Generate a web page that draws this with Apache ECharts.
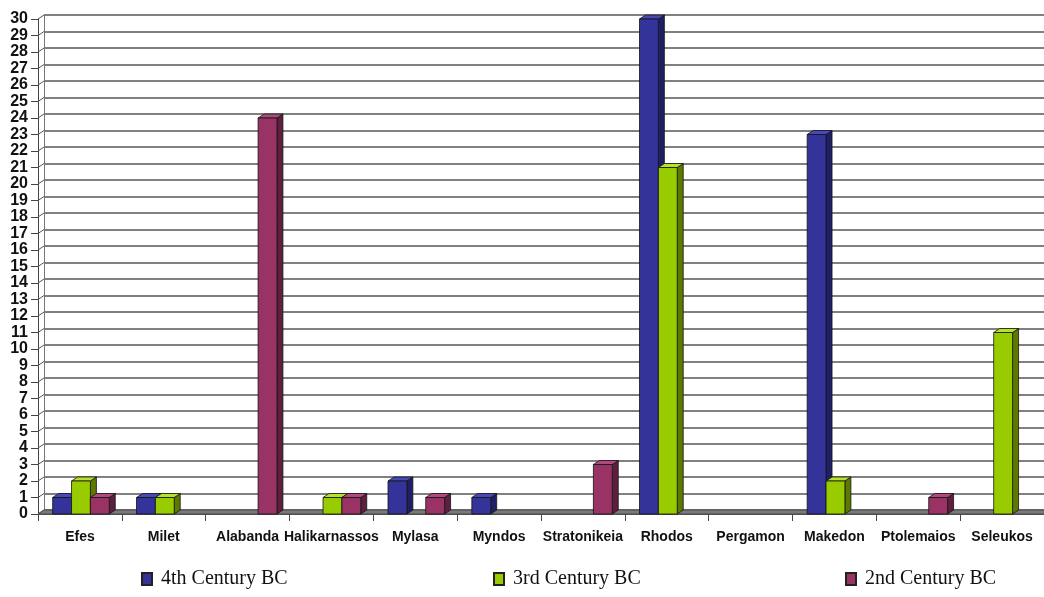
<!DOCTYPE html>
<html>
<head>
<meta charset="utf-8">
<script src="https://cdn.jsdelivr.net/npm/echarts@6/dist/echarts.min.js"></script>
<style>
  html, body { margin: 0; padding: 0; background: #fff; }
  #chart { width: 1044px; height: 597px; }
</style>
</head>
<body>
<div id="chart"></div>
<script>
// Coin finds per city, grouped by century
const categories = ['Efes', 'Milet', 'Alabanda', 'Halikarnassos', 'Mylasa', 'Myndos',
  'Stratonikeia', 'Rhodos', 'Pergamon', 'Makedon', 'Ptolemaios', 'Seleukos'];
const century4 = [1, 1, 0, 0, 2, 1, 0, 30, 0, 23, 0, 0];
const century3 = [2, 1, 0, 1, 0, 0, 0, 21, 0, 2, 0, 11];
const century2 = [1, 0, 24, 1, 1, 0, 3, 0, 0, 0, 1, 0];
const seriesNames = ['4th Century BC', '3rd Century BC', '2nd Century BC'];
const yMin = 0, yMax = 30, yStep = 1;

// face colours: front, top, side
const palettes = [
  { front: '#33339a', top: '#4848b8', side: '#1f1f66' },
  { front: '#99cc00', top: '#b5e22a', side: '#5c7a00' },
  { front: '#993366', top: '#b04a7c', side: '#5e1f3f' }
];

const DX = 6, DY = -4;          // depth offset of the 3D effect
const BAR_OFF = 0.175;          // first bar offset within a category band
const BAR_W = 0.225;            // bar width as fraction of band

function barRenderer(sIdx) {
  return function (params, api) {
    const idx = api.value(0);
    const val = api.value(1);
    if (!val) return null;
    const band = api.size([1, 0])[0];
    const base = api.coord([idx, 0]);
    const top = api.coord([idx, val]);
    const left = base[0] - band / 2 + band * BAR_OFF + sIdx * band * BAR_W;
    const right = left + band * BAR_W;
    const p = palettes[sIdx];
    const stroke = { stroke: '#141414', lineWidth: 0.8 };
    return {
      type: 'group',
      children: [
        { type: 'polygon', shape: { points: [[right, top[1]], [right + DX, top[1] + DY], [right + DX, base[1] + DY], [right, base[1]]] },
          style: Object.assign({ fill: p.side }, stroke) },
        { type: 'polygon', shape: { points: [[left, top[1]], [left + DX, top[1] + DY], [right + DX, top[1] + DY], [right, top[1]]] },
          style: Object.assign({ fill: p.top }, stroke) },
        { type: 'rect', shape: { x: left, y: top[1], width: right - left, height: base[1] - top[1] },
          style: Object.assign({ fill: p.front }, stroke) }
      ]
    };
  };
}

// floor strip and the short connectors from the front axis to the back wall
function frameRenderer(params, api) {
  const band = api.size([1, 0])[0];
  const z0 = api.coord([0, 0]);
  const xl = z0[0] - band / 2;
  const xr = xl + band * categories.length;
  const children = [
    { type: 'polygon', shape: { points: [[xl, z0[1]], [xl + DX, z0[1] + DY], [xr + DX, z0[1] + DY], [xr, z0[1]]] },
      style: { fill: '#7a7a7a', stroke: '#4a4a4a', lineWidth: 1 } }
  ];
  for (let v = yMin; v <= yMax; v += yStep) {
    const c = api.coord([0, v]);
    children.push({ type: 'line', shape: { x1: xl, y1: c[1], x2: xl + DX, y2: c[1] + DY },
      style: { stroke: '#555', lineWidth: 1 } });
  }
  return { type: 'group', children: children };
}

const seriesData = [century4, century3, century2];
const series = seriesData.map((arr, s) => ({
  name: seriesNames[s],
  type: 'custom',
  xAxisIndex: 0,
  yAxisIndex: 0,
  itemStyle: { color: palettes[s].front, borderColor: '#222', borderWidth: 0.8 },
  renderItem: barRenderer(s),
  encode: { x: 0, y: 1 },
  data: arr.map((v, i) => [i, v]),
  z: 5
}));
series.unshift({
  name: 'frame',
  type: 'custom',
  xAxisIndex: 0,
  yAxisIndex: 0,
  renderItem: frameRenderer,
  data: [[0, 0]],
  silent: true,
  z: 2
});

const legendText = { fontFamily: 'Liberation Serif', fontSize: 20, color: '#111', padding: [0, 0, 0, 4], lineHeight: 20 };
const legendBase = { top: 569, padding: 0, itemWidth: 10, itemHeight: 12, icon: 'rect', textStyle: legendText };

const chart = echarts.init(document.getElementById('chart'), null, { renderer: 'canvas' });
chart.setOption({
  animation: false,
  backgroundColor: '#ffffff',
  grid: [
    { left: 38, right: -7, top: 19, bottom: 83, containLabel: false },
    { left: 44, right: -13, top: 15, bottom: 87, containLabel: false }
  ],
  legend: [
    Object.assign({ left: 141, data: [seriesNames[0]] }, legendBase),
    Object.assign({ left: 493, data: [seriesNames[1]] }, legendBase),
    Object.assign({ left: 845, data: [seriesNames[2]] }, legendBase)
  ],
  xAxis: [
    {
      type: 'category', gridIndex: 0, data: categories, boundaryGap: true,
      axisLine: { show: true, lineStyle: { color: '#555', width: 1 } },
      axisTick: { show: true, interval: 0, length: 7, lineStyle: { color: '#444' } },
      axisLabel: { interval: 0, margin: 16, color: '#111', fontFamily: 'Liberation Sans', fontWeight: 'bold', fontSize: 14 },
      splitLine: { show: false }
    },
    {
      type: 'category', gridIndex: 1, data: categories, show: false
    }
  ],
  yAxis: [
    {
      type: 'value', gridIndex: 0, min: yMin, max: yMax, interval: yStep,
      axisLine: { show: true, lineStyle: { color: '#444', width: 1 } },
      axisTick: { show: true, length: 7, lineStyle: { color: '#444' } },
      axisLabel: { margin: 10, color: '#111', fontFamily: 'Liberation Sans', fontWeight: 'bold', fontSize: 16 },
      splitLine: { show: false }
    },
    {
      type: 'value', gridIndex: 1, min: yMin, max: yMax, interval: yStep,
      axisLine: { show: true, lineStyle: { color: '#777', width: 1 } },
      axisTick: { show: false },
      axisLabel: { show: false },
      splitLine: { show: true, lineStyle: { color: '#808080', width: 2 } }
    }
  ],
  series: series
});
</script>
</body>
</html>
